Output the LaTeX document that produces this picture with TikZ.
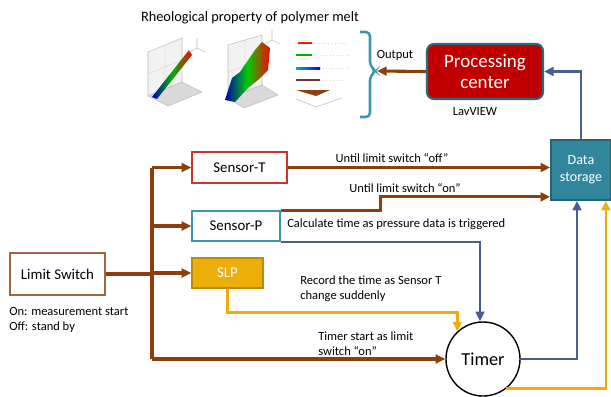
\documentclass[tikz,border=0pt]{standalone}
\usepackage{fontspec}
\setmainfont{Carlito}
\usetikzlibrary{arrows.meta}
\definecolor{wirebrown}{RGB}{140,62,12}
\definecolor{wireblue}{RGB}{72,94,146}
\definecolor{wireamber}{RGB}{238,174,10}
\definecolor{tealfill}{RGB}{49,134,155}
\definecolor{tealline}{RGB}{60,150,178}
\definecolor{pcred}{RGB}{192,0,0}
\begin{document}
\begin{tikzpicture}[x=0.025cm, y=-0.025cm,
  >={Triangle[length=2.4mm,width=2.2mm]},
  box/.style={draw, line width=1pt, fill=white, inner sep=0pt, font=\fontsize{10.6}{12}\selectfont},
  note/.style={inner sep=0pt, align=left, font=\fontsize{8.9}{10.4}\selectfont},
  brownwire/.style={draw=wirebrown, line width=2.2pt},
  bluewire/.style={draw=wireblue, line width=1.6pt},
  amberwire/.style={draw=wireamber, line width=1.8pt}]
  \useasboundingbox (0,0) rectangle (611,396);
  % Plots
  \node[note, font=\fontsize{10.2}{12}\selectfont] (title) at (250,18) {Rheological property of polymer melt};
  \filldraw[gray!10, draw=gray!50, thin] (148,96) -- (148,52) -- (182,38) -- (182,82) -- cycle;
  \filldraw[gray!30, draw=gray!50, thin] (148,96) -- (182,82) -- (202,92) -- (168,106) -- cycle;
  \draw[gray!40, very thin] (148,74) -- (182,60) (165,89) -- (165,45);
  \shade[left color=blue!70!black, right color=red, middle color=green!70!black] (152,97) -- (157,99) -- (192,55) -- (189,50) -- cycle;
  \draw[gray!50] (197,48) -- ++(0,-10) (197,48) -- ++(8,4) (197,48) -- ++(-8,4);
  \filldraw[gray!10, draw=gray!50, thin] (228,98) -- (228,45) -- (262,35) -- (262,85) -- cycle;
  \filldraw[gray!30, draw=gray!50, thin] (228,98) -- (262,85) -- (278,95) -- (244,108) -- cycle;
  \draw[gray!40, very thin] (228,72) -- (262,60) (245,92) -- (245,40);
  \shade[left color=blue!70!black, right color=red, middle color=green!80!black] (225,100) -- (232,78) -- (240,72) -- (255,50) -- (262,42) -- (270,48) -- (268,70) -- (258,80) -- (248,88) -- (235,102) -- cycle;
  \draw[gray!50] (272,40) -- ++(0,-10) (272,40) -- ++(8,4) (272,40) -- ++(-8,4);
  \draw[gray!30, dotted] (298,43) -- (346,43) (296,55) -- (350,55) (296,68) -- (350,68) (296,80) -- (346,80);
  \draw[red!80!orange, line width=1.3pt] (298,43) -- (312,43);
  \draw[green!70!black, line width=1.3pt] (296,55) -- (312,55);
  \shade[left color=cyan!70!black, right color=blue] (296,67) rectangle (320,69);
  \draw[wirebrown!80!blue, line width=1.3pt] (296,80) -- (320,80);
  \fill[wirebrown] (296,90) -- (330,90) -- (316,96) -- cycle;
  \draw[gray!50] (296,99) -- (316,107) -- (342,98);
  % Bracket and processing
  \draw[tealline, line width=1.8pt, rounded corners=3pt] (360,32) -| (370,66) -- (376,71) -- (370,76) |- (360,117);
  \coordinate (out) at (377,71);
  \node[note] (outlbl) at (395,55) {Output};
  \node[draw=tealfill!80!black, line width=1.5pt, fill=pcred, rounded corners=5pt, minimum width=2.9cm, minimum height=1.375cm, align=center, text=white, font=\fontsize{13.5}{15}\selectfont] (PC) at (485,71.5) {Processing\\center};
  \node[note] (lav) at (475,112) {LavVIEW};
  \node[draw=tealfill!75!black, line width=1.2pt, fill=tealfill, minimum width=1.5cm, minimum height=1.5cm, align=center, text=white, font=\fontsize{10}{12}\selectfont] (DS) at (581,170) {Data\\storage};
  % Boxes
  \node[box, draw=red!75!black!80, minimum width=2.375cm, minimum height=0.775cm] (ST) at (239.5,167.5) {Sensor-T};
  \node[box, draw=tealline, minimum width=2.2cm, minimum height=0.75cm] (SP) at (236,226) {Sensor-P};
  \node[box, draw=wireamber!80!black, fill=wireamber, text=white, minimum width=1.775cm, minimum height=0.75cm] (SLP) at (227.5,273) {SLP};
  \node[box, draw=wirebrown!80, minimum width=2.375cm, minimum height=1.05cm] (LS) at (57.5,274) {Limit Switch};
  \node[note, anchor=north west] (onoff) at (9,307) {On: measurement start\\Off: stand by};
  \node[box, circle, minimum size=1.85cm, font=\fontsize{13}{15}\selectfont] (Timer) at (483,359) {Timer};
  \coordinate (trunk) at (152,0);
  % Lines
  \draw[brownwire] (LS.east) -- (LS.east -| trunk);
  \draw[brownwire] (ST.west -| trunk) -- (Timer.west -| trunk);
  \draw[brownwire, ->] (ST.west -| trunk) -- (ST.west);
  \draw[brownwire, ->] (SP.west -| trunk) -- (SP.west);
  \draw[brownwire, ->] (SLP.west -| trunk) -- (SLP.west);
  \draw[brownwire, ->] (Timer.west -| trunk) -- (Timer.west);
  \draw[brownwire, ->] (ST.east) -- (ST.east -| DS.west);
  \draw[brownwire, ->] (SP.north east) -- ++(100,0) |- ([yshift=0.1cm]DS.south west);
  \draw[brownwire, ->] (PC.west) -- (out);
  \draw[bluewire, ->] (SP.south east) -| ([xshift=-0.075cm]Timer.north);
  \draw[amberwire, ->] (SLP.south) -- ++(0,24) -| (Timer.133);
  \draw[bluewire, ->] (Timer.east) -| ([xshift=-0.1cm]DS.south);
  \draw[amberwire, ->] (Timer.-52) -| ([xshift=-0.15cm]DS.south east);
  \draw[bluewire, ->] (DS.north) |- (PC.east);
  % Labels
  \node[note] (offlbl) at (392,158) {Until limit switch “off”};
  \node[note] (onlbl) at (405,188) {Until limit switch “on”};
  \node[note, anchor=west] (calc) at (287,224) {Calculate time as pressure data is triggered};
  \node[note, anchor=west] (rec) at (300,289) {Record the time as Sensor T\\change suddenly};
  \node[note, anchor=west] (tstart) at (318,344) {Timer start as limit\\switch “on”};
\end{tikzpicture}
\end{document}
